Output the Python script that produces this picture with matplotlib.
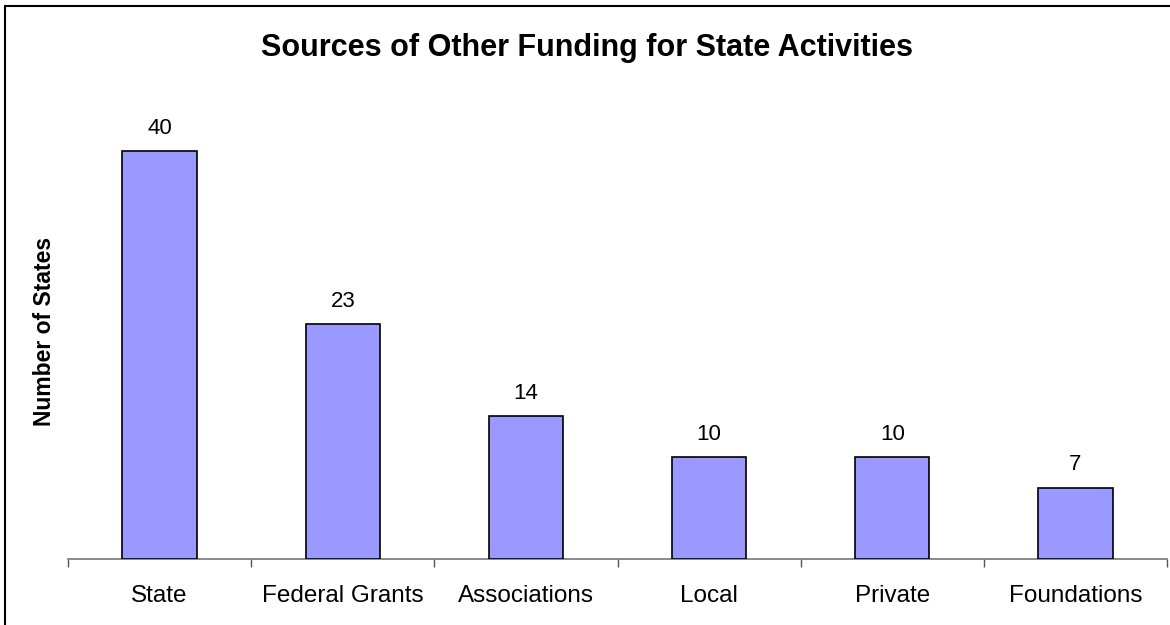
import numpy as np
from matplotlib import pyplot as plt
from matplotlib.patches import Rectangle
import matplotlib as mpl

mpl.rcParams['font.sans-serif'] = 'Liberation Sans'
mpl.rcParams['font.family'] = 'sans-serif'

categories = ['State', 'Federal Grants', 'Associations', 'Local', 'Private', 'Foundations']
counts = [40, 23, 14, 10, 10, 7]

W, H = 1170, 625
fig = plt.figure(figsize=(W/100, H/100), dpi=100)
ax = fig.add_axes([68/W, 66/H, 1099/W, 459/H])

# outer frame runs off the right and bottom edges
fig.add_artist(Rectangle((5/W, -0.05), 1.1, 0.05 + (H-6)/H, transform=fig.transFigure,
                         fill=False, edgecolor='black', linewidth=1.5))

x = np.arange(len(categories))
bars = ax.bar(x, counts, width=0.405, color='#9999FF', edgecolor='black', linewidth=1.2, zorder=3)
for xi, v in zip(x, counts):
    ax.text(xi, v + 1.7, str(v), ha='center', va='baseline', fontsize=16)

ax.set_xlim(-0.5, len(categories) - 0.5)
ax.set_ylim(0, 45)
ax.set_xticks(np.arange(-0.5, len(categories)), minor=False)
ax.set_xticklabels([])
ax.set_xticks(x, minor=True)
ax.set_xticklabels(categories, minor=True, fontsize=17.5)
ax.tick_params(axis='x', which='major', direction='out', length=6, color='#555555', width=1)
ax.tick_params(axis='x', which='minor', length=0, pad=19)
ax.set_yticks([])

for s in ['left', 'right', 'top']:
    ax.spines[s].set_visible(False)
ax.spines['bottom'].set_color('#777777')
ax.spines['bottom'].set_linewidth(1.2)

ax.set_ylabel('Number of States', fontsize=16.5, fontweight='bold')
ax.yaxis.set_label_coords(-0.011, 0.495)
fig.text(587/W, 1 - 48/H, 'Sources of Other Funding for State Activities',
         ha='center', va='center', fontsize=22, fontweight='bold')

plt.savefig('out.png', dpi=100)
plt.close()
